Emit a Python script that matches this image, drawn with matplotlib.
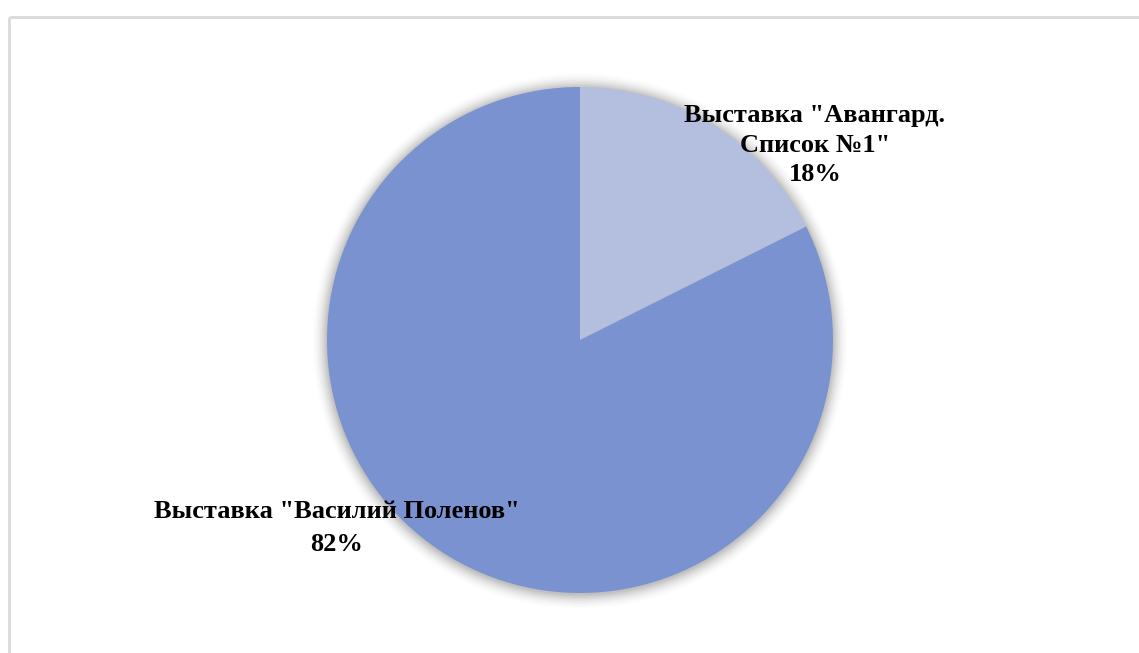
import numpy as np
import matplotlib.pyplot as plt

# Data
labels = ['Выставка "Авангард.\nСписок №1"', 'Выставка "Василий Поленов"']
values = [17.6, 82.4]
colors = ['#B4BEDF', '#7A92CF']

W, H = 1139, 653
fig = plt.figure(figsize=(W / 100, H / 100), dpi=100)
ax = fig.add_axes([0, 0, 1, 1])

# chart area border (top and left visible)
ax.plot([9, W + 5], [H - 17, H - 17], color='#D9D9D9', lw=2, solid_capstyle='butt')
ax.plot([9, 9], [H - 17, -5], color='#D9D9D9', lw=2, solid_capstyle='butt')

cx, cy, r = 580, H - 340, 253

# soft shadow
for k, a in enumerate(np.linspace(0.045, 0.008, 10)):
    ax.add_patch(plt.Circle((cx, cy - 1), r + 1 + k * 1.5, color='black', alpha=a, lw=0, zorder=1))

wedges, _ = ax.pie(values, colors=colors, startangle=90, counterclock=False,
                   center=(cx, cy), radius=r, frame=True,
                   wedgeprops=dict(linewidth=0, zorder=2))
ax.set_xlim(0, W)
ax.set_ylim(0, H)
ax.set_aspect('equal')
ax.axis('off')

font = dict(family='Liberation Serif', fontweight='bold', fontsize=19, color='black',
            ha='center', va='center', zorder=5)
pcts = [f'{round(v)}%' for v in values]
ax.text(815, H - 145, labels[0] + '\n' + pcts[0], linespacing=1.38, **font)
ax.text(337, H - 528, labels[1] + '\n' + pcts[1], linespacing=1.55, **font)

fig.savefig('out.png', dpi=100)
